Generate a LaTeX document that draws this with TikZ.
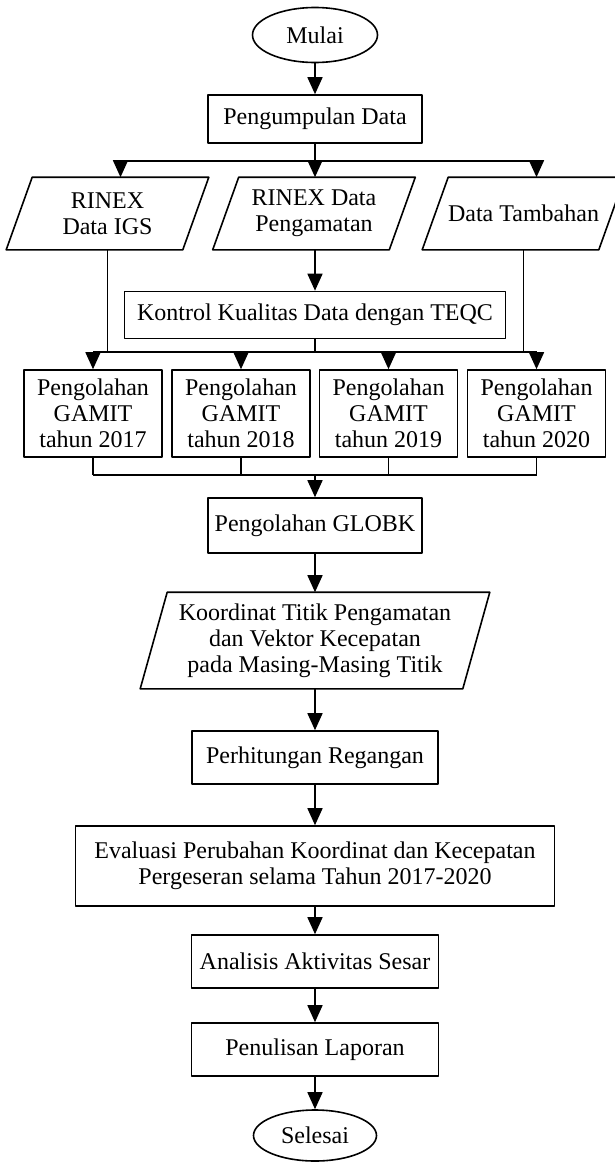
\documentclass[tikz,border=0pt]{standalone}
\usepackage{fontspec}
\setmainfont{Liberation Serif}
\usetikzlibrary{arrows.meta,shapes.geometric}
\begin{document}
\begin{tikzpicture}[x=0.5pt,y=-0.5pt,line join=round,line width=0.8pt,font=\fontsize{12}{13}\selectfont,>={Triangle[length=8.5pt,width=7.5pt]},
	terminal/.style={draw,ellipse,minimum width=62.5pt,minimum height=27.5pt,inner sep=0pt},
	proses/.style={draw,rectangle,align=center,inner sep=0pt},
	io/.style={rectangle,align=center,inner sep=0pt,minimum width=87.5pt,minimum height=35.5pt}]
		\useasboundingbox (0,0) rectangle (615,1162);
		\node[terminal] (mulai) at (315,35) {Mulai};
		\node[proses,minimum width=107pt,minimum height=24pt] (kumpul) at (315,119) {Pengumpulan Data};
		\node[io] (igs) at (107.5,213.5) {RINEX\\Data IGS};
		\node[io] (amat) at (314,213.5) {RINEX Data\\Pengamatan};
		\node[io] (tambah) at (523.5,213.5) {Data Tambahan};
		\node[proses,minimum width=190.5pt,minimum height=23.5pt] (teqc) at (315,315) {Kontrol Kualitas Data dengan TEQC};
		\foreach \t/\x in {2017/93,2018/241,2019/388.5,2020/536.5}
		\node[proses,minimum width=69pt,minimum height=43.5pt] (g\t) at (\x,413.5) {Pengolahan\\GAMIT\\tahun \t};
		\node[proses,minimum width=107pt,minimum height=27.5pt] (globk) at (315,525.5) {Pengolahan GLOBK};
		\node[io,minimum width=160.5pt,minimum height=47.5pt] (koord) at (315,640.5) {Koordinat Titik Pengamatan\\dan Vektor Kecepatan\\pada Masing-Masing Titik};
		\node[proses,minimum width=123pt,minimum height=26.5pt] (hitung) at (315,757.5) {Perhitungan Regangan};
		\node[proses,minimum width=239.5pt,minimum height=40pt] (evaluasi) at (315,866) {Evaluasi Perubahan Koordinat dan Kecepatan\\Pergeseran selama Tahun 2017-2020};
		\node[proses,minimum width=123.5pt,minimum height=26.5pt] (analisis) at (315,961.5) {Analisis Aktivitas Sesar};
		\node[proses,minimum width=123.5pt,minimum height=26.5pt] (tulis) at (315,1049.5) {Penulisan Laporan};
		\node[terminal,minimum width=61.5pt,minimum height=25.5pt] (selesai) at (315,1135.5) {Selesai};
		% jajaran genjang data
		\foreach \n/\s in {igs/6.5pt,amat/6.5pt,tambah/6.5pt,koord/6.75pt}
		\draw ([xshift=\s]\n.north west)--([xshift=\s]\n.north east)--([xshift=-\s]\n.south east)--([xshift=-\s]\n.south west)--cycle;
		% percabangan
		\coordinate (cab) at (315,161);
		\coordinate (bagi) at (315,352);
		\coordinate (gabung) at (315,475);
		\draw[->] (mulai)--(kumpul);
		\draw (kumpul)--(cab);
		\draw[->] (cab)-|([xshift=6.5pt]igs.north);
		\draw[->] (cab)-|([xshift=6.5pt]tambah.north);
		\draw[->] (cab)--(cab|-amat.north);
		\draw[->] (amat.south-|teqc)--(teqc);
		\draw (teqc)--(bagi);
		\draw (igs.south)--(igs.south|-bagi);
		\draw[line width=0.5pt] (tambah.south)--(tambah.south|-bagi);
		\draw (g2017|-bagi)--(g2020|-bagi);
		\foreach \t in {2017,2018,2019,2020}
		\draw[->] (g\t|-bagi)--(g\t);
		\foreach \t in {2017,2018,2019,2020}
		\draw (g\t)--(g\t|-gabung);
		\draw (g2017|-gabung)--(g2020|-gabung);
		\draw[->] (gabung)--(globk);
		\draw[->] (globk)--(koord);
		\draw[->] (koord)--(hitung);
		\draw[->] (hitung)--(evaluasi);
		\draw[->] (evaluasi)--(analisis);
		\draw[->] (analisis)--(tulis);
		\draw[->] (tulis)--(selesai);
		\end{tikzpicture}
\end{document}
